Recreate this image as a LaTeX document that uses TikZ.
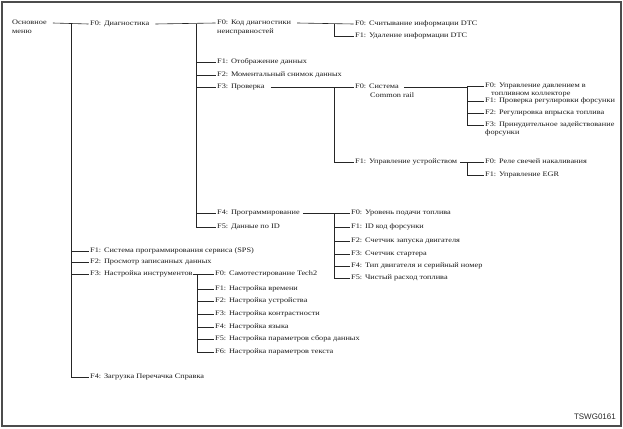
\documentclass[tikz,border=0pt]{standalone}
\usepackage{fontspec}
\setmainfont{Liberation Serif}[FakeStretch=1.2]
\newfontfamily\labelsans{Liberation Sans}
\begin{document}
\begin{tikzpicture}[x=1pt,y=-1pt,
  lbl/.style={anchor=west, inner sep=0pt, text height=4.8pt, text depth=1.4pt,
              font=\fontsize{6.9}{8.5}\selectfont, text=black!90},
  wire/.style={draw=black!85, line width=0.6pt},
  frame/.style={draw=black!70, line width=1.5pt}]
\useasboundingbox (0,0) rectangle (623,428);
\draw[frame] (2,2) rectangle (621,426);

% level 0 / 1
\node[lbl] (root) at (12,23) {Основное};
\node[lbl] (rootb) at ([yshift=-9pt]root.west) {меню};
\node[lbl] (diag) at (90,24) {F0: Диагностика};
\node[lbl] (sps) at (90,251) {F1: Система программирования сервиса (SPS)};
\node[lbl] (prosm) at (90,262) {F2: Просмотр записанных данных};
\node[lbl] (nastr) at (90,274) {F3: Настройка инструментов};
\node[lbl] (zagr) at (90,377) {F4: Загрузка Перечачка Справка};

% level 2 under diag
\node[lbl] (kod) at (217,23) {F0: Код диагностики};
\node[lbl] (kodb) at ([yshift=-9pt]kod.west) {неисправностей};
\node[lbl] (otob) at (217,62) {F1: Отображение данных};
\node[lbl] (mom) at (217,75) {F2: Моментальный снимок данных};
\node[lbl] (prov) at (217,87) {F3: Проверка};
\node[lbl] (prog) at (217,213) {F4: Программирование};
\node[lbl] (dann) at (217,227) {F5: Данные по ID};

% DTC
\node[lbl] (dtc0) at (355,24) {F0: Считывание информации DTC};
\node[lbl] (dtc1) at (355,36) {F1: Удаление информации DTC};

% Проверка
\node[lbl] (sys) at (355,87) {F0: Система};
\node[lbl] (sysb) at ([xshift=15pt,yshift=-8.5pt]sys.west) {Common rail};
\node[lbl] (upr) at (355,162) {F1: Управление устройством};

\node[lbl] (cr0) at (485,86) {F0: Управление давлением в};
\node[lbl] (cr0b) at ([xshift=6pt,yshift=-8pt]cr0.west) {топливном коллекторе};
\node[lbl] (cr1) at (485,101) {F1: Проверка регулировки форсунки};
\node[lbl] (cr2) at (485,113) {F2: Регулировка впрыска топлива};
\node[lbl] (cr3) at (485,125) {F3: Принудительное задействование};
\node[lbl] (cr3b) at ([yshift=-8pt]cr3.west) {форсунки};

\node[lbl] (rele) at (485,162) {F0: Реле свечей накаливания};
\node[lbl] (egr) at (485,175) {F1: Управление EGR};

% Программирование
\node[lbl] (ur) at (351,213) {F0: Уровень подачи топлива};
\node[lbl] (idk) at (351,227) {F1: ID код форсунки};
\node[lbl] (sch) at (351,241) {F2: Счетчик запуска двигателя};
\node[lbl] (st) at (351,254) {F3: Счетчик стартера};
\node[lbl] (tip) at (351,266) {F4: Тип двигателя и серийный номер};
\node[lbl] (chist) at (351,278) {F5: Чистый расход топлива};

% Настройка инструментов
\node[lbl] (tt0) at (215,274) {F0: Самотестирование Tech2};
\node[lbl] (tt1) at (215,289) {F1: Настройка времени};
\node[lbl] (tt2) at (215,301) {F2: Настройка устройства};
\node[lbl] (tt3) at (215,314) {F3: Настройка контрастности};
\node[lbl] (tt4) at (215,327) {F4: Настройка языка};
\node[lbl] (tt5) at (215,339) {F5: Настройка параметров сбора данных};
\node[lbl] (tt6) at (215,352) {F6: Настройка параметров текста};

\node[anchor=east, inner sep=0pt, font=\labelsans\fontsize{8}{9}\selectfont, text=black!85] (code) at (616,417) {TSWG0161};

% junctions
\coordinate (j1) at (71,0 |- diag.west);
\coordinate (j2) at (196,0 |- diag.west);
\coordinate (j3) at (334,0 |- dtc0.west);
\coordinate (j4) at (334,0 |- sys.west);
\coordinate (j5) at (467,0 |- sys.west);
\coordinate (j6) at (467,0 |- rele.west);
\coordinate (j7) at (334,0 |- ur.west);
\coordinate (j8) at (197,0 |- tt0.west);

% horizontal runs
\draw[wire] ([xshift=6pt]root.east) -- ([xshift=-1.5pt]diag.west);
\draw[wire] ([xshift=6pt]diag.east) -- ([xshift=-1.5pt]kod.west);
\draw[wire] ([xshift=6pt]kod.east) -- ([xshift=-1.5pt]dtc0.west);
\draw[wire] ([xshift=6pt]prov.east) -- ([xshift=-1.5pt]sys.west);
\draw[wire] ([xshift=5pt]sys.east) -- (j5) |- ([xshift=-1.5pt]cr0.west);
\draw[wire] ([xshift=3pt]upr.east) -- ([xshift=-1.5pt]rele.west);
\draw[wire] ([xshift=3pt]prog.east) -- ([xshift=-1.5pt]ur.west);
\draw[wire] ([xshift=0.5pt]nastr.east) -- ([xshift=-1.5pt]tt0.west);

% branches
\foreach \c in {sps,prosm,nastr,zagr} \draw[wire] (j1) |- ([xshift=-1.5pt]\c.west);
\foreach \c in {otob,mom,prov,prog,dann} \draw[wire] (j2) |- ([xshift=-1.5pt]\c.west);
\draw[wire] (j3) |- ([xshift=-1.5pt]dtc1.west);
\draw[wire] (j4) |- ([xshift=-1.5pt]upr.west);
\foreach \c in {cr1,cr2,cr3} \draw[wire] (j5) |- ([xshift=-1.5pt]\c.west);
\draw[wire] (j6) |- ([xshift=-1.5pt]egr.west);
\foreach \c in {idk,sch,st,tip,chist} \draw[wire] (j7) |- ([xshift=-1.5pt]\c.west);
\foreach \c in {tt1,tt2,tt3,tt4,tt5,tt6} \draw[wire] (j8) |- ([xshift=-1.5pt]\c.west);
\end{tikzpicture}
\end{document}
